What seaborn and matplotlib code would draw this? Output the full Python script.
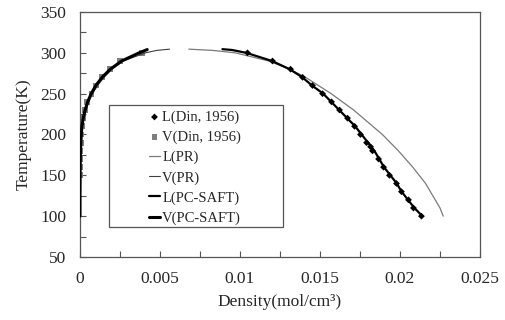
import numpy as np
import pandas as pd
import seaborn as sns
import matplotlib
matplotlib.use('Agg')
from matplotlib import pyplot as plt
from matplotlib.patches import Rectangle
from matplotlib.ticker import MultipleLocator, FuncFormatter

# saturated liquid / vapour densities (Din, 1956), mol/cm3 vs K
liq_T = [300, 290, 280, 270, 260, 250, 240, 230, 220, 210, 200, 190, 185, 180, 170, 160, 150, 140, 130, 120, 110, 100]
liq_rho = [0.01047, 0.01203, 0.01316, 0.01391, 0.01453, 0.01516, 0.01572, 0.01622, 0.01672, 0.01716, 0.01753,
           0.01791, 0.01816, 0.01828, 0.01866, 0.01897, 0.01934, 0.01978, 0.02009, 0.02053, 0.02084, 0.02134]
vap_T = [300, 290, 280, 270, 260, 250, 240, 230, 220, 210, 200, 190, 180, 170, 160, 150]
vap_rho = [0.0039, 0.0025, 0.0019, 0.0014, 0.0010, 0.00072, 0.00045, 0.00032, 0.00020, 0.00012,
           0.00008, 0.00005, 0.00003, 0.00002, 0.00001, 0.000005]

# PR curves
pr_liq_T = [304.5, 303, 300, 290, 280, 270, 260, 250, 240, 230, 220, 210, 200, 190, 180, 170, 160, 150, 140, 130, 120, 110, 100]
pr_liq_rho = [0.0068, 0.0083, 0.0097, 0.0118, 0.0131, 0.0141, 0.0149, 0.0157, 0.0164, 0.0171, 0.0177, 0.0183,
              0.0189, 0.0194, 0.0199, 0.02035, 0.0208, 0.0212, 0.0216, 0.0219, 0.0222, 0.0225, 0.0227]
pr_vap_T = [304.5, 303, 300, 290, 280, 270, 260, 250, 240, 230, 220, 210, 200, 180, 160, 130, 100]
pr_vap_rho = [0.0056, 0.0048, 0.0041, 0.0027, 0.0020, 0.0015, 0.0011, 0.00078, 0.00055, 0.00038, 0.00025,
              0.00016, 0.0001, 0.00004, 0.00001, 0.000002, 0.0]

# PC-SAFT curves
pc_liq_T = [304.5, 303.5, 300, 290, 280, 270, 260, 250, 240, 230, 220, 210, 200, 190, 180, 170, 160, 150, 140, 130, 120, 110, 100]
pc_liq_rho = [0.0089, 0.0095, 0.0104, 0.0120, 0.0131, 0.0139, 0.0145, 0.0152, 0.0157, 0.0162, 0.0167, 0.0172,
              0.0176, 0.0180, 0.0184, 0.0187, 0.0190, 0.0194, 0.0198, 0.0201, 0.0205, 0.0209, 0.0214]
pc_vap_T = [304, 300, 290, 280, 270, 260, 250, 240, 230, 220, 210, 200, 180, 160, 130, 100]
pc_vap_rho = [0.0042, 0.0037, 0.0026, 0.0019, 0.00138, 0.00099, 0.0007, 0.00048, 0.00032, 0.0002,
              0.00012, 0.00008, 0.00003, 0.00001, 0.000002, 0.0]

sns.set_style('ticks')
plt.rcParams['font.family'] = ['Liberation Serif', 'DejaVu Serif']

fig = plt.figure(figsize=(5.06, 3.2), dpi=100)
ax = fig.add_axes([80/506, 1-257/320, 400/506, 245/320])

sns.scatterplot(x=vap_rho, y=vap_T, marker='s', s=18, color='#7f7f7f', edgecolor='none', ax=ax, label='V(Din, 1956)', zorder=2)
sns.lineplot(x=pr_liq_rho, y=pr_liq_T, sort=False, estimator=None, color='#7a7a7a', lw=0.9, ax=ax, label='L(PR)', zorder=3)
sns.lineplot(x=pr_vap_rho, y=pr_vap_T, sort=False, estimator=None, color='#404040', lw=0.8, ax=ax, label='V(PR)', zorder=3)
sns.lineplot(x=pc_liq_rho, y=pc_liq_T, sort=False, estimator=None, color='black', lw=1.6, ax=ax, label='L(PC-SAFT)', zorder=4)
sns.lineplot(x=pc_vap_rho, y=pc_vap_T, sort=False, estimator=None, color='black', lw=2.2, ax=ax, label='V(PC-SAFT)', zorder=4)
sns.scatterplot(x=liq_rho, y=liq_T, marker='D', s=12, color='black', edgecolor='none', ax=ax, label='L(Din, 1956)', zorder=5)

ax.set_xlim(0, 0.025)
ax.set_ylim(50, 350)
ax.xaxis.set_major_locator(MultipleLocator(0.005))
ax.xaxis.set_minor_locator(MultipleLocator(0.0025))
ax.yaxis.set_major_locator(MultipleLocator(50))
ax.yaxis.set_minor_locator(MultipleLocator(25))
ax.xaxis.set_major_formatter(FuncFormatter(lambda v, p: '{:g}'.format(round(v, 4))))
ax.tick_params(which='both', direction='in', length=4, width=0.8, color='#555555', labelsize=12.5, pad=10)
for s in ax.spines.values():
    s.set_color('#555555')
    s.set_linewidth(0.9)

ax.set_xlabel('Density(mol/cm³)', fontsize=12.5, labelpad=5)
ax.set_ylabel('Temperature(K)', fontsize=12.5, labelpad=6)

# legend, order as in the original
h, l = ax.get_legend_handles_labels()
order = ['L(Din, 1956)', 'V(Din, 1956)', 'L(PR)', 'V(PR)', 'L(PC-SAFT)', 'V(PC-SAFT)']
hd = dict(zip(l, h))
ax.legend([hd[k] for k in order], order, loc='upper left', bbox_to_anchor=(0.1725, 0.598),
          frameon=False, fontsize=10.5, handlelength=0.75, handletextpad=0.15, borderpad=0,
          borderaxespad=0, labelspacing=0.46, markerscale=1.0)
ax.add_patch(Rectangle((0.0725, 0.1224), 0.435, 0.498, transform=ax.transAxes, fill=False,
                       edgecolor='#555555', lw=0.9, zorder=6))

plt.savefig('out.png', dpi=100)
plt.close()
